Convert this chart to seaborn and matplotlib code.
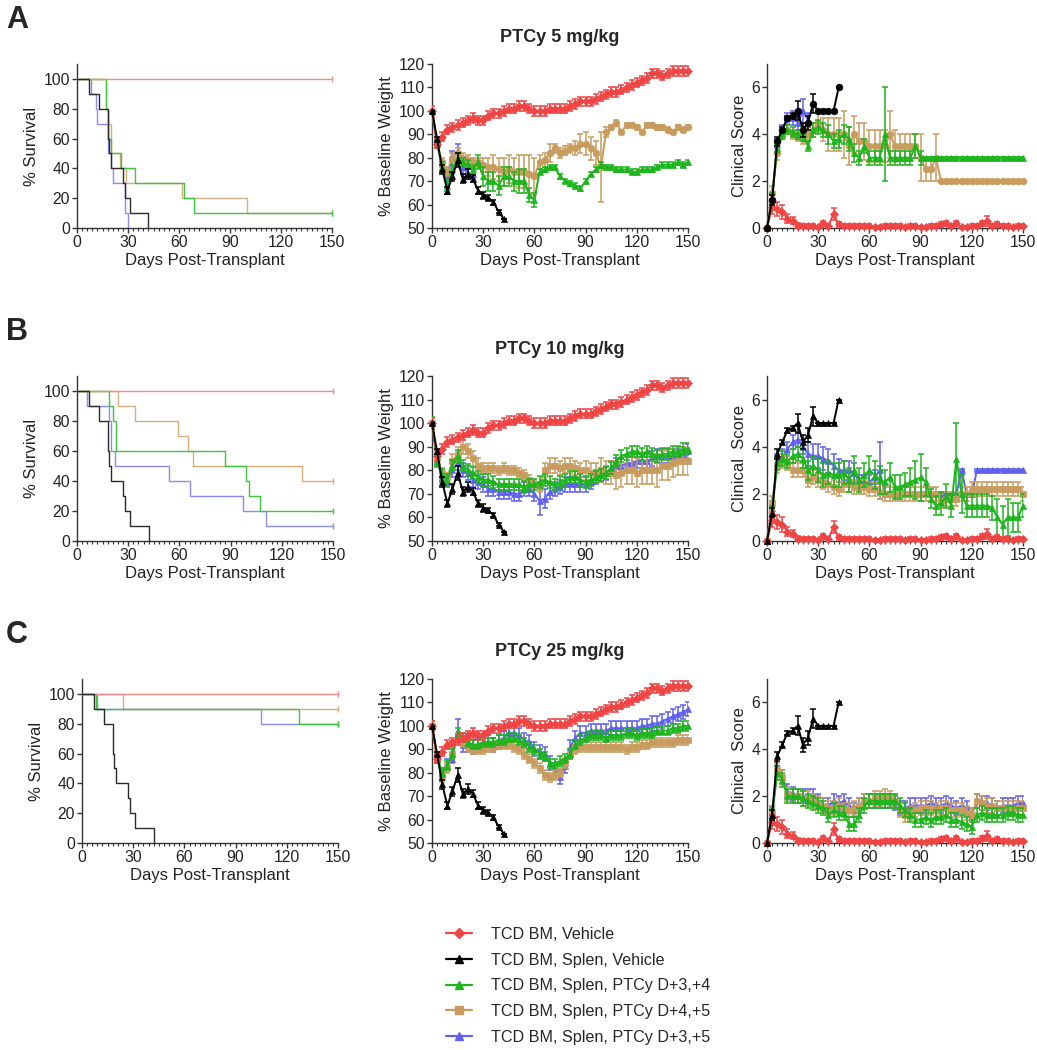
import matplotlib
matplotlib.use('Agg')
import matplotlib.pyplot as plt
import seaborn as sns
from matplotlib.ticker import MultipleLocator
from matplotlib.lines import Line2D

# ---------------- DATA ----------------
DAYS = list(range(0, 151, 3))   # measurement days (every 3 days)

group_labels = ["TCD BM, Vehicle", "TCD BM, Splen, Vehicle", "TCD BM, Splen, PTCy D+3,+4",
                "TCD BM, Splen, PTCy D+4,+5", "TCD BM, Splen, PTCy D+3,+5"]
panel_titles = ["PTCy 5 mg/kg", "PTCy 10 mg/kg", "PTCy 25 mg/kg"]
panel_letters = ["A", "B", "C"]

# ---- shared control groups ----
weight_red = [100, 86, 89, 92, 93, 94, 95, 96, 97, 96,
              96, 98, 99, 99, 100, 101, 101, 102, 102, 101,
              100, 100, 100, 101, 101, 101, 101, 102, 103, 104,
              104, 104, 105, 106, 107, 108, 108, 109, 110, 111,
              112, 113, 114, 116, 116, 115, 116, 117, 117, 117,
              117]
weight_red_err = 2.0
weight_black = [100, 88, 75, 66, 72, 79, 71, 73, 71, 66, 64, 63, 61, 57, 54]
weight_black_err = [0, 1, 2, 1.5, 2, 3, 2, 2, 1.5, 1.5, 1.5, 1, 1, 0.5, 0]

clin_red = [0, 0.9, 0.8, 0.7, 0.4, 0.3, 0.1, 0.1, 0.1, 0.1,
            0.05, 0.2, 0.1, 0.6, 0.15, 0.1, 0.1, 0.1, 0.1, 0.1,
            0.1, 0.05, 0.05, 0.1, 0.1, 0.1, 0.1, 0.05, 0.1, 0.1,
            0.05, 0.05, 0.1, 0.1, 0.15, 0.2, 0.1, 0.2, 0.05, 0.05,
            0.1, 0.1, 0.2, 0.3, 0.1, 0.15, 0.1, 0.1, 0.05, 0.1,
            0.1]
clin_red_err = [0, 0.3, 0.3, 0.3, 0.2, 0.15, 0.1, 0.05, 0.05, 0.05,
                0.05, 0.1, 0.05, 0.25, 0.1, 0.05, 0.05, 0.05, 0.05, 0.05,
                0.05, 0.05, 0.05, 0.05, 0.05, 0.05, 0.05, 0.05, 0.05, 0.05,
                0.05, 0.05, 0.05, 0.05, 0.1, 0.1, 0.05, 0.1, 0.05, 0.05,
                0.05, 0.05, 0.1, 0.2, 0.05, 0.1, 0.05, 0.05, 0.05, 0.05,
                0.05]
clin_black = [0, 1.2, 3.7, 4.2, 4.7, 4.8, 5.0, 4.2, 4.5, 5.3, 5.0, 5.0, 5.0, 5.0, 6.0]
clin_black_err = [0, 0.2, 0.2, 0.1, 0.1, 0.1, 0.4, 0.3, 0.3, 0.4, 0, 0, 0, 0, 0]

surv_red_t = [0]
surv_red_s = [100]
surv_black_t = [0, 7, 13, 18, 19, 20, 27, 28, 31, 42]
surv_black_s = [100, 90, 80, 60, 50, 40, 30, 20, 10, 0]

# ---- panel A (5 mg/kg) ----
survA_green_t = [0, 17, 18, 20, 26, 34, 63, 69]
survA_green_s = [100, 80, 60, 50, 40, 30, 20, 10]
survA_tan_t = [0, 17, 18, 20, 25, 29, 62, 100]
survA_tan_s = [100, 80, 70, 50, 40, 30, 20, 10]
survA_blue_t = [0, 8, 11, 12, 18, 20, 21, 28, 30]
survA_blue_s = [100, 90, 80, 70, 50, 40, 30, 10, 0]

wA_green = [100, 86, 76, 68, 75, 80, 78, 77, 75, 78,
            72, 70, 70, 68, 72, 72, 70, 70, 70, 64,
            62, 74, 75, 76, 76, 72, 70, 69, 68, 67,
            70, 73, 75, 77, 76, 76, 75, 75, 75, 74,
            74, 75, 75, 75, 76, 77, 77, 77, 78, 77,
            78]
wA_green_err = [0, 2, 2, 2, 2, 2, 2, 2, 2, 3,
                4, 4, 4, 4, 4, 4, 4, 5, 5, 3,
                3, 1, 1, 1, 1, 1, 1, 1, 1, 1,
                1, 1, 1, 1, 1, 1, 1, 1, 1, 1,
                1, 1, 1, 1, 1, 1, 1, 1, 1, 1,
                1]
wA_tan = [100, 86, 78, 74, 80, 82, 80, 79, 78, 78,
          77, 76, 76, 75, 74, 75, 74, 74, 74, 73,
          72, 78, 79, 82, 84, 82, 83, 84, 84, 86,
          86, 84, 82, 76, 91, 93, 95, 91, 94, 94,
          93, 91, 94, 94, 93, 93, 92, 91, 93, 92,
          93]
wA_tan_err = [0, 2, 2, 2, 2, 2, 2, 2, 2, 2,
              3, 4, 5, 5, 6, 6, 6, 7, 7, 8,
              8, 3, 3, 4, 2, 2, 2, 2, 3, 4,
              5, 5, 5, 15, 2, 1, 1, 1, 1, 1,
              1, 1, 1, 1, 1, 1, 1, 1, 1, 1,
              1]
wA_blue = [100, 86, 76, 72, 80, 83, 76, 73, 73]
wA_blue_err = [0, 2, 2, 2, 3, 3, 3, 2, 2]

cA_green = [0, 1.3, 3.4, 4.0, 4.2, 4.1, 4.0, 4.0, 3.5, 4.2,
            4.3, 4.2, 4.0, 3.7, 3.8, 4.0, 3.8, 3.2, 3.0, 3.5,
            3.0, 3.0, 3.0, 4.0, 3.0, 3.0, 3.0, 3.0, 3.0, 3.5,
            3.0, 3.0, 3.0, 3.0, 3.0, 3.0, 3.0, 3.0, 3.0, 3.0,
            3.0, 3.0, 3.0, 3.0, 3.0, 3.0, 3.0, 3.0, 3.0, 3.0,
            3.0]
cA_green_err = [0, 0.2, 0.2, 0.2, 0.2, 0.2, 0.2, 0.3, 0.2, 0.3,
                0.3, 0.3, 0.4, 0.3, 0.4, 0.4, 0.5, 0.4, 0.3, 0.3,
                0.3, 0.3, 0.3, 2.0, 0.3, 0.3, 0.3, 0.3, 0.3, 0.5,
                0.3, 0.05, 0.05, 0.05, 0.05, 0.05, 0.05, 0.05, 0.05, 0.05,
                0.05, 0.05, 0.05, 0.05, 0.05, 0.05, 0.05, 0.05, 0.05, 0.05,
                0.05]
cA_tan = [0, 1.5, 3.2, 4.0, 4.2, 4.0, 3.9, 3.8, 4.0, 4.2,
          4.5, 4.2, 4.0, 4.0, 4.0, 4.0, 3.5, 4.0, 3.7, 3.7,
          3.5, 3.5, 3.5, 3.5, 4.0, 3.5, 3.5, 3.5, 3.5, 3.5,
          3.0, 2.5, 2.5, 3.0, 2.0, 2.0, 2.0, 2.0, 2.0, 2.0,
          2.0, 2.0, 2.0, 2.0, 2.0, 2.0, 2.0, 2.0, 2.0, 2.0,
          2.0]
cA_tan_err = [0, 0.3, 0.3, 0.2, 0.2, 0.2, 0.2, 0.2, 0.3, 0.3,
              0.4, 0.5, 0.7, 0.7, 0.7, 1.0, 0.8, 0.8, 0.8, 0.8,
              0.7, 0.7, 0.7, 0.7, 1.0, 0.7, 0.5, 0.5, 0.5, 0.5,
              1.0, 0.5, 0.5, 1.0, 0.05, 0.05, 0.05, 0.05, 0.05, 0.05,
              0.05, 0.05, 0.05, 0.05, 0.05, 0.05, 0.05, 0.05, 0.05, 0.05,
              0.05]
cA_blue = [0, 1.2, 3.6, 4.2, 4.7, 4.7, 4.5, 5.0, 4.6]
cA_blue_err = [0, 0.2, 0.2, 0.2, 0.2, 0.3, 0.3, 0.5, 0.3]

# ---- panel B (10 mg/kg) ----
survB_green_t = [0, 19, 21, 23, 87, 99, 101, 107]
survB_green_s = [100, 90, 80, 60, 50, 40, 30, 20]
survB_tan_t = [0, 24, 34, 59, 65, 68, 132]
survB_tan_s = [100, 90, 80, 70, 60, 50, 40]
survB_blue_t = [0, 6, 19, 20, 22, 54, 66, 97, 111]
survB_blue_s = [100, 90, 80, 60, 50, 40, 30, 20, 10]

wB_green = [100, 84, 78, 76, 82, 86, 82, 80, 79, 77,
            76, 76, 75, 74, 74, 74, 74, 74, 73, 74,
            74, 75, 76, 75, 74, 75, 76, 77, 77, 76,
            75, 76, 77, 78, 79, 81, 84, 86, 87, 88,
            88, 87, 88, 87, 86, 87, 87, 88, 88, 89,
            89]
wB_green_err = 2.5
wB_blue = [100, 84, 77, 75, 80, 83, 80, 79, 76, 75,
           74, 72, 72, 71, 71, 71, 70, 70, 72, 72,
           70, 67, 68, 71, 72, 73, 74, 74, 74, 74,
           74, 75, 77, 78, 79, 81, 82, 82, 83, 83,
           84, 84, 84, 85, 86, 86, 86, 86, 86, 87,
           88]
wB_blue_err = [0, 2, 2, 2, 3, 3, 3, 3, 3, 3,
               3, 3, 3, 3, 3, 3, 3, 3, 3, 3,
               3, 6, 4, 3, 3, 3, 3, 3, 3, 3,
               3, 3, 3, 3, 3, 3, 3, 3, 3, 3,
               3, 3, 3, 3, 3, 3, 3, 3, 3, 3,
               3]
wB_tan = [100, 85, 79, 77, 84, 87, 90, 88, 85, 82,
          81, 81, 81, 80, 81, 80, 80, 79, 78, 76,
          74, 73, 80, 82, 82, 81, 82, 82, 81, 80,
          80, 79, 79, 80, 79, 79, 78, 79, 80, 80,
          79, 80, 80, 80, 80, 82, 82, 83, 84, 84,
          84]
wB_tan_err = [0, 2, 2, 2, 3, 3, 3, 3, 3, 3,
              2, 2, 2, 2, 2, 2, 2, 2, 2, 2,
              2, 2, 3, 3, 3, 3, 3, 3, 3, 3,
              4, 4, 4, 5, 5, 5, 6, 6, 6, 6,
              6, 6, 6, 6, 7, 6, 6, 6, 6, 6,
              6]

cB_blue = [0, 1.4, 3.4, 3.6, 3.9, 4.2, 4.3, 4.0, 3.7, 3.6,
           3.6, 3.5, 3.4, 3.2, 3.0, 3.0, 3.0, 2.9, 2.5, 2.5,
           2.5, 2.7, 3.0, 2.0, 2.0, 2.0, 2.0, 2.0, 2.0, 2.0,
           2.0, 2.0, 2.0, 2.0, 2.0, 2.0, 2.0, 2.0, 3.0, 2.0,
           2.0, 3.0, 3.0, 3.0, 3.0, 3.0, 3.0, 3.0, 3.0, 3.0,
           3.0]
cB_blue_err = [0, 0.3, 0.3, 0.3, 0.3, 0.3, 0.3, 0.3, 0.5, 0.5,
               0.5, 0.5, 0.5, 0.5, 0.5, 0.4, 0.4, 0.4, 0.3, 0.3,
               0.3, 0.3, 1.2, 0.05, 0.05, 0.05, 0.05, 0.05, 0.05, 0.05,
               0.05, 0.05, 0.05, 0.05, 0.05, 0.05, 0.05, 0.05, 0.05, 0.05,
               0.05, 0.05, 0.05, 0.05, 0.05, 0.05, 0.05, 0.05, 0.05, 0.05,
               0.05]
cB_green = [0, 1.2, 3.3, 3.5, 3.4, 3.6, 3.7, 3.5, 3.0, 3.2,
            3.0, 2.8, 2.9, 2.8, 2.8, 2.9, 2.6, 3.0, 2.6, 2.8,
            3.0, 2.8, 2.6, 2.5, 2.7, 2.3, 2.3, 2.4, 2.5, 2.6,
            2.7, 2.5, 1.8, 1.5, 1.6, 1.9, 1.5, 3.5, 2.0, 1.5,
            1.5, 1.5, 1.5, 1.5, 1.4, 1.0, 0.7, 1.0, 1.0, 1.0,
            1.5]
cB_green_err = [0, 0.3, 0.3, 0.3, 0.3, 0.3, 0.3, 0.4, 0.4, 0.4,
                0.5, 0.5, 0.5, 0.5, 0.5, 0.5, 0.5, 0.6, 0.5, 0.5,
                0.6, 0.6, 0.6, 0.5, 0.6, 0.5, 0.5, 0.5, 0.6, 0.8,
                1.0, 0.6, 0.4, 0.4, 0.5, 0.5, 0.5, 1.5, 0.8, 0.5,
                0.5, 0.5, 0.5, 0.5, 0.5, 0.8, 0.8, 0.8, 0.6, 0.6,
                0.5]
cB_tan = [0, 1.6, 3.2, 3.4, 3.3, 3.0, 3.0, 3.0, 2.6, 2.7,
          2.6, 2.5, 2.4, 2.3, 2.2, 2.4, 2.4, 2.3, 2.3, 2.3,
          2.2, 2.2, 2.1, 2.0, 2.0, 2.0, 2.0, 2.0, 2.0, 2.0,
          2.0, 2.0, 2.0, 2.0, 1.7, 1.8, 1.8, 1.8, 2.0, 2.0,
          2.2, 2.2, 2.2, 2.2, 2.2, 2.2, 2.2, 2.2, 2.2, 2.2,
          2.0]
cB_tan_err = 0.3

# ---- panel C (25 mg/kg) ----
survC_green_t = [0, 8, 127]
survC_green_s = [100, 90, 80]
survC_tan_t = [0, 24]
survC_tan_s = [100, 90]
survC_blue_t = [0, 9, 105]
survC_blue_s = [100, 90, 80]

wC_blue = [100, 87, 80, 84, 86, 98, 92, 92, 91, 92,
           93, 93, 92, 93, 95, 97, 97, 96, 94, 93,
           90, 89, 88, 84, 81, 78, 83, 91, 95, 97,
           97, 98, 98, 98, 98, 99, 99, 99, 99, 99,
           99, 100, 100, 101, 101, 102, 103, 104, 105, 106,
           107]
wC_blue_err = [0, 2, 2, 2, 2, 5, 3, 3, 3, 3,
               3, 3, 3, 3, 3, 3, 3, 3, 3, 3,
               3, 3, 3, 3, 3, 3, 3, 3, 3, 3,
               3, 3, 3, 3, 3, 3, 3, 3, 3, 3,
               3, 3, 3, 3, 3, 3, 3, 3, 3, 3,
               3]
wC_green = [100, 86, 80, 83, 88, 97, 95, 93, 92, 92,
            93, 93, 93, 94, 94, 95, 95, 94, 93, 91,
            90, 88, 87, 84, 84, 85, 86, 88, 92, 94,
            95, 96, 96, 96, 95, 96, 96, 96, 97, 97,
            96, 97, 97, 97, 98, 98, 98, 99, 99, 100,
            100]
wC_green_err = 2.0
wC_tan = [100, 86, 78, 82, 88, 95, 93, 91, 90, 90,
          90, 91, 91, 92, 92, 92, 91, 90, 88, 86,
          84, 82, 79, 78, 79, 80, 84, 88, 90, 91,
          91, 91, 91, 91, 91, 91, 91, 91, 90, 91,
          91, 92, 92, 93, 93, 93, 93, 93, 94, 94,
          94]
wC_tan_err = 2.0

cC_blue = [0, 1.3, 3.0, 2.8, 2.2, 2.1, 2.0, 2.0, 2.0, 2.0,
           1.8, 1.6, 1.6, 1.8, 1.7, 1.8, 1.6, 1.4, 1.6, 1.8,
           1.8, 1.8, 1.8, 1.8, 1.8, 1.7, 1.5, 1.5, 1.6, 1.6,
           1.6, 1.6, 1.7, 1.6, 1.6, 1.7, 1.6, 1.5, 1.6, 1.5,
           1.2, 1.8, 1.7, 1.7, 1.6, 1.5, 1.6, 1.6, 1.6, 1.7,
           1.7]
cC_green = [0, 1.2, 3.0, 2.7, 2.0, 2.0, 2.0, 1.9, 1.8, 1.7,
            1.6, 1.5, 1.2, 1.4, 1.3, 1.3, 0.8, 0.8, 1.2, 1.6,
            1.8, 1.8, 1.8, 1.8, 1.8, 1.8, 1.6, 1.4, 1.2, 1.0,
            1.0, 1.1, 1.0, 1.1, 1.1, 1.2, 1.0, 1.0, 0.9, 0.8,
            0.7, 1.2, 1.3, 1.2, 1.2, 1.2, 1.2, 1.3, 1.3, 1.2,
            1.2]
cC_tan = [0, 1.3, 3.1, 2.8, 2.1, 2.0, 2.0, 1.9, 1.9, 1.8,
          1.7, 1.6, 1.5, 1.5, 1.6, 1.4, 1.4, 1.5, 1.6, 1.8,
          1.8, 1.9, 1.9, 2.0, 1.9, 1.8, 1.4, 1.2, 1.3, 1.4,
          1.5, 1.5, 1.5, 1.4, 1.5, 1.5, 1.4, 1.4, 1.4, 1.3,
          1.2, 1.8, 1.7, 1.6, 1.6, 1.5, 1.5, 1.5, 1.5, 1.5,
          1.5]
cC_err = 0.3

# ---------------- STYLE ----------------
sns.set_style('ticks')
plt.rcParams['font.family'] = ['Liberation Sans', 'DejaVu Sans']

COL = {'red': '#F04545', 'black': '#000000', 'green': '#1CB51C', 'tan': '#C89B5E', 'blue': '#6060EE'}
SCOL = {'red': '#F28A8A', 'black': '#2A2A2A', 'green': '#3EC43E', 'tan': '#D6AE7E', 'blue': '#8C8CEC'}
MARK = {'red': 'D', 'black': '^', 'green': '^', 'tan': 's', 'blue': '^'}
MS = {'red': 3.8, 'black': 5, 'green': 5, 'tan': 4.4, 'blue': 5}
ZO = {'blue': 2, 'tan': 3, 'green': 4, 'red': 5, 'black': 6}

W, H = 1037, 1050
fig = plt.figure(figsize=(W / 100, H / 100), dpi=100)


def rect(l, t, r, b):
    return [l / W, 1 - b / H, (r - l) / W, (b - t) / H]


def style(ax, ylim, yticks, ylabel):
    ax.set_xlim(0, 150)
    ax.set_ylim(*ylim)
    ax.set_xticks([0, 30, 60, 90, 120, 150])
    ax.xaxis.set_minor_locator(MultipleLocator(3))
    ax.set_yticks(yticks)
    for s in ['top', 'right']:
        ax.spines[s].set_visible(False)
    for s in ['left', 'bottom']:
        ax.spines[s].set_linewidth(1.0)
        ax.spines[s].set_color('#333333')
    ax.tick_params(which='major', direction='out', length=3.5, width=1, color='#333333',
                   labelsize=11.3, pad=1.5, labelcolor='#222222')
    ax.tick_params(axis='x', which='minor', direction='out', length=2, width=0.8, color='#333333')
    ax.tick_params(axis='y', which='minor', length=0)
    ax.set_ylabel(ylabel, fontsize=12, labelpad=3, color='#222222')
    ax.set_xlabel('Days Post-Transplant', fontsize=12, labelpad=2, color='#222222')


def draw_surv(ax, t, s, key):
    x = list(t)
    y = list(s)
    if y[-1] > 0:
        x.append(150)
        y.append(y[-1])
    sns.lineplot(x=x, y=y, ax=ax, color=SCOL[key], linewidth=1.0, drawstyle='steps-post',
                 estimator=None, legend=False, clip_on=False, zorder=ZO[key])
    if y[-1] > 0:
        ax.plot([150], [y[-1]], marker='|', ms=4, mew=1.0, color=SCOL[key], clip_on=False,
                zorder=ZO[key])


def draw_series(ax, vals, err, key, marker=None):
    x = DAYS[:len(vals)]
    m = marker or MARK[key]
    ms = MS[key] if marker is None else 4.8
    ax.errorbar(x, vals, yerr=err, fmt='none', ecolor=COL[key], elinewidth=1.1,
                capsize=2.4, capthick=1.1, zorder=ZO[key])
    sns.lineplot(x=x, y=vals, ax=ax, color=COL[key], marker=m, markersize=ms,
                 markeredgecolor=COL[key], markeredgewidth=0.5, linewidth=1.4,
                 estimator=None, legend=False, zorder=ZO[key], clip_on=False)


panels = [
    dict(surv=[(surv_red_t, surv_red_s, 'red'), (surv_black_t, surv_black_s, 'black'),
               (survA_blue_t, survA_blue_s, 'blue'), (survA_tan_t, survA_tan_s, 'tan'),
               (survA_green_t, survA_green_s, 'green')],
         weight=[(wA_blue, wA_blue_err, 'blue', None), (wA_tan, wA_tan_err, 'tan', 'o'),
                 (wA_green, wA_green_err, 'green', None)],
         clin=[(cA_blue, cA_blue_err, 'blue', None), (cA_tan, cA_tan_err, 'tan', 'o'),
               (cA_green, cA_green_err, 'green', None)],
         black_clin_marker='o', clin_label='Clinical Score',
         rows=(64, 228), surv_x=(77, 332)),
    dict(surv=[(surv_red_t, surv_red_s, 'red'), (surv_black_t, surv_black_s, 'black'),
               (survB_blue_t, survB_blue_s, 'blue'), (survB_tan_t, survB_tan_s, 'tan'),
               (survB_green_t, survB_green_s, 'green')],
         weight=[(wB_blue, wB_blue_err, 'blue', None), (wB_tan, wB_tan_err, 'tan', None),
                 (wB_green, wB_green_err, 'green', None)],
         clin=[(cB_blue, cB_blue_err, 'blue', None), (cB_tan, cB_tan_err, 'tan', None),
               (cB_green, cB_green_err, 'green', None)],
         black_clin_marker=None, clin_label='Clinical  Score',
         rows=(376, 541), surv_x=(77, 333)),
    dict(surv=[(surv_red_t, surv_red_s, 'red'), (surv_black_t, surv_black_s, 'black'),
               (survC_tan_t, survC_tan_s, 'tan'), (survC_green_t, survC_green_s, 'green'),
               (survC_blue_t, survC_blue_s, 'blue')],
         weight=[(wC_tan, wC_tan_err, 'tan', None), (wC_green, wC_green_err, 'green', None),
                 (wC_blue, wC_blue_err, 'blue', None)],
         clin=[(cC_tan, cC_err, 'tan', None), (cC_blue, cC_err, 'blue', None),
               (cC_green, cC_err, 'green', None)],
         black_clin_marker=None, clin_label='Clinical  Score',
         rows=(679, 843), surv_x=(82, 338)),
]

for i, p in enumerate(panels):
    top, bot = p['rows']
    ax1 = fig.add_axes(rect(p['surv_x'][0], top, p['surv_x'][1], bot))
    ax2 = fig.add_axes(rect(432, top, 688, bot))
    ax3 = fig.add_axes(rect(767, top, 1023, bot))

    for t, s, key in p['surv']:
        draw_surv(ax1, t, s, key)
    style(ax1, (0, 110), [0, 20, 40, 60, 80, 100], '% Survival')

    for vals, err, key, mk in p['weight']:
        draw_series(ax2, vals, err, key, mk)
    draw_series(ax2, weight_red, weight_red_err, 'red')
    draw_series(ax2, weight_black, weight_black_err, 'black')
    style(ax2, (50, 120), [50, 60, 70, 80, 90, 100, 110, 120], '% Baseline Weight')

    for vals, err, key, mk in p['clin']:
        draw_series(ax3, vals, err, key, mk)
    draw_series(ax3, clin_red, clin_red_err, 'red')
    draw_series(ax3, clin_black, clin_black_err, 'black', p['black_clin_marker'])
    style(ax3, (0, 7), [0, 2, 4, 6], p['clin_label'])

    fig.text(560 / W, 1 - (top - 27) / H, panel_titles[i], ha='center', va='center',
             fontsize=13, fontweight='bold')
    fig.text(17 / W, 1 - (top - 44) / H, panel_letters[i], ha='center', va='center',
             fontsize=22, fontweight='bold')

# legend
keys = ['red', 'black', 'green', 'tan', 'blue']
handles = [Line2D([], [], color=COL[k], marker=MARK[k], markersize=6 if k != 'red' else 5,
                  markeredgecolor=COL[k], linewidth=1.6) for k in keys]
fig.legend(handles, group_labels, loc='upper left', bbox_to_anchor=(446 / W, 1 - 927 / H),
           frameon=False, fontsize=11.6, handlelength=1.6, handletextpad=1.2,
           labelspacing=0.66, borderaxespad=0, borderpad=0)

fig.savefig('out.png', dpi=100)
